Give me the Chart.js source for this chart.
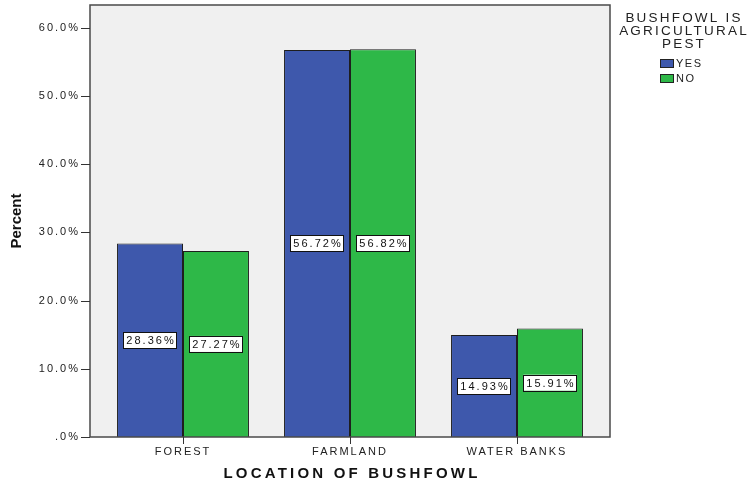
<!DOCTYPE html>
<html lang="en">
<head>
<meta charset="UTF-8" />
<title>Location of bushfowl</title>
<script src="https://cdn.jsdelivr.net/npm/chart.js@4"></script>
<style>
  html, body { margin: 0; padding: 0; background: #fff; }
</style>
</head>
<body>
<canvas id="myCanvas" width="747" height="485"></canvas>

<script>
  // data
  const locations = ["FOREST", "FARMLAND", "WATER BANKS"];
  const yesValues = [28.36, 56.72, 14.93];
  const noValues = [27.27, 56.82, 15.91];
  const seriesNames = ["YES", "NO"];
  const yTicks = [0, 10, 20, 30, 40, 50, 60];
  const legendTitle = ["BUSHFOWL IS", "AGRICULTURAL", "PEST"];

  const BLUE = "#3E58AC";
  const GREEN = "#2EB848";
  const FONT = "'Liberation Sans', Arial, sans-serif";

  // SPSS style frame, labels in boxes, legend and titles
  const spssLook = {
    id: "spssLook",
    beforeDraw(chart) {
      const ctx = chart.ctx;
      const a = chart.chartArea;
      ctx.save();
      ctx.fillStyle = "#f0f0f0";
      ctx.fillRect(a.left - 9.5, a.top, a.right - a.left + 19, a.bottom - a.top);
      ctx.restore();
      ctx.letterSpacing = "2px";
    },
    afterDatasetsDraw(chart) {
      const ctx = chart.ctx;
      const a = chart.chartArea;
      const left = a.left - 9.5;
      const right = a.right + 9.5;
      ctx.save();

      // frame
      ctx.strokeStyle = "#4a4a4a";
      ctx.lineWidth = 1.5;
      ctx.strokeRect(left, a.top, right - left, a.bottom - a.top);

      // tick marks
      ctx.lineWidth = 1;
      ctx.strokeStyle = "#333";
      ctx.beginPath();
      chart.scales.y.ticks.forEach(function (t) {
        const y = Math.round(chart.scales.y.getPixelForValue(t.value)) + 0.5;
        ctx.moveTo(left - 9, y);
        ctx.lineTo(left, y);
      });
      chart.scales.x.ticks.forEach(function (t, i) {
        const x = Math.round(chart.scales.x.getPixelForTick(i)) + 0.5;
        ctx.moveTo(x, a.bottom);
        ctx.lineTo(x, a.bottom + 7);
      });
      ctx.stroke();

      // value labels
      ctx.font = "11px " + FONT;
      ctx.letterSpacing = "2px";
      ctx.textAlign = "center";
      ctx.textBaseline = "middle";
      chart.data.datasets.forEach(function (ds, i) {
        chart.getDatasetMeta(i).data.forEach(function (bar, j) {
          const txt = ds.data[j].toFixed(2) + "%";
          const w = ctx.measureText(txt).width + 4;
          const cy = (bar.y + bar.base) / 2;
          ctx.fillStyle = "#fff";
          ctx.fillRect(bar.x - w / 2, cy - 8, w, 16);
          ctx.strokeStyle = "#111";
          ctx.strokeRect(Math.round(bar.x - w / 2) + 0.5, Math.round(cy - 8) + 0.5, Math.round(w), 16);
          ctx.fillStyle = "#111";
          ctx.fillText(txt, bar.x + 1, cy + 1);
        });
      });

      // legend
      ctx.fillStyle = "#222";
      ctx.font = "13.5px " + FONT;
      ctx.letterSpacing = "2.2px";
      legendTitle.forEach(function (line, i) {
        ctx.fillText(line, 684, 18 + i * 13);
      });
      ctx.font = "11px " + FONT;
      ctx.letterSpacing = "1.5px";
      ctx.textAlign = "left";
      chart.data.datasets.forEach(function (ds, i) {
        const y = 59 + i * 15;
        ctx.fillStyle = ds.backgroundColor;
        ctx.fillRect(660, y, 14, 9);
        ctx.strokeStyle = "#222";
        ctx.strokeRect(660.5, y + 0.5, 13, 8);
        ctx.fillStyle = "#222";
        ctx.fillText(ds.label, 676, y + 5);
      });

      // axis titles
      ctx.fillStyle = "#111";
      ctx.textAlign = "center";
      ctx.font = "bold 15px " + FONT;
      ctx.letterSpacing = "3.2px";
      ctx.fillText("LOCATION OF BUSHFOWL", (a.left + a.right) / 2 + 2, 474);

      ctx.letterSpacing = "0px";
      ctx.translate(17, (a.top + a.bottom) / 2);
      ctx.rotate(-Math.PI / 2);
      ctx.fillText("Percent", 0, 0);

      ctx.restore();
    }
  };

  const ctx = document.getElementById("myCanvas").getContext("2d");
  const myChart = new Chart(ctx, {
    type: "bar",
    data: {
      labels: locations,
      datasets: [
        {
          label: seriesNames[0],
          data: yesValues,
          backgroundColor: BLUE,
          borderColor: "#1e1e1e",
          borderWidth: 1,
          categoryPercentage: 0.79,
          barPercentage: 1.0,
        },
        {
          label: seriesNames[1],
          data: noValues,
          backgroundColor: GREEN,
          borderColor: "#1e1e1e",
          borderWidth: 1,
          categoryPercentage: 0.79,
          barPercentage: 1.0,
        },
      ],
    },
    options: {
      responsive: false,
      animation: false,
      devicePixelRatio: 1,
      layout: { padding: { top: 5, right: 146.5, left: 0, bottom: 0 } },
      plugins: {
        legend: { display: false },
        tooltip: { enabled: false },
      },
      scales: {
        x: {
          grid: { display: false },
          border: { display: false },
          ticks: {
            color: "#222",
            font: { family: FONT, size: 11 },
            padding: 0,
            maxRotation: 0,
            autoSkip: false,
          },
          afterFit: function (scale) { scale.height = 48; },
        },
        y: {
          min: 0,
          max: 63.3,
          grid: { display: false },
          border: { display: false },
          afterBuildTicks: function (scale) {
            scale.ticks = yTicks.map(v => ({ value: v }));
          },
          ticks: {
            color: "#222",
            font: { family: FONT, size: 11 },
            padding: 11.5,
            callback: function (v) {
              return v === 0 ? ".0%" : v.toFixed(1) + "%";
            },
          },
          afterFit: function (scale) {
            scale.width = 99.5;
            scale.paddingTop = 0;
            scale.paddingBottom = 0;
          },
        },
      },
    },
    plugins: [spssLook],
  });
</script>
</body>
</html>
